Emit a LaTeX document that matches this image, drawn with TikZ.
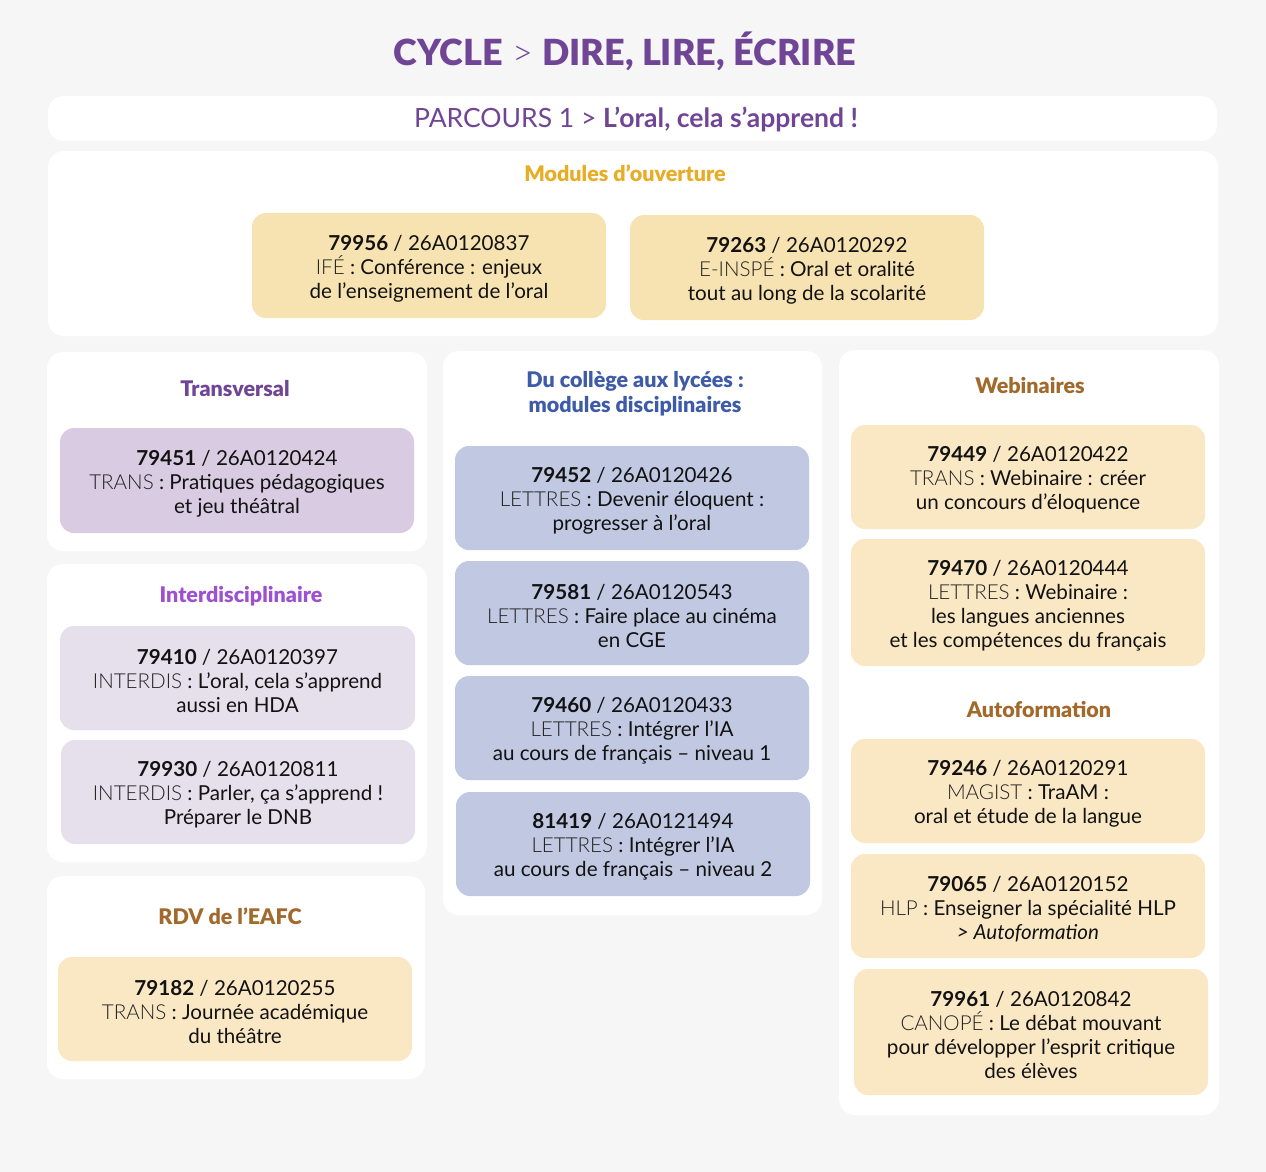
\documentclass[tikz,border=0pt]{standalone}
\usepackage{fontspec}
\setmainfont{Lato}
\newfontfamily\lightfont{Lato Light}
\newfontfamily\blackfont{Lato Black}
\definecolor{bgc}{HTML}{F6F6F6}
\definecolor{purp}{HTML}{704595}
\definecolor{ipurp}{HTML}{9D50CF}
\definecolor{gold}{HTML}{E9AC25}
\definecolor{blu}{HTML}{3E5BA8}
\definecolor{brn}{HTML}{A2692C}
\definecolor{ylw}{HTML}{F7E3B1}
\definecolor{cream}{HTML}{FAE8C5}
\definecolor{lav}{HTML}{D9CCE2}
\definecolor{lavl}{HTML}{E6E0EC}
\definecolor{blc}{HTML}{C1C8E2}
\definecolor{pregray}{HTML}{222222}
\definecolor{txt}{HTML}{121212}
\newcommand\pre[1]{{\lightfont\color{pregray}#1}}
\newcommand\card[7]{%
  \node[card,fill=#6,minimum width={(#4)-(#2)},minimum height={(#5)-(#3)}] (#1) at ({((#2)+(#4))/2},{((#3)+(#5))/2}) {\rule{0pt}{21pt}#7};}
\begin{document}
\begin{tikzpicture}[x=1pt,y=-1pt,
  panel/.style={fill=white,rounded corners=16pt},
  card/.style={rounded corners=14pt,align=center,inner sep=0pt,text=txt,font=\fontsize{20.6}{24}\selectfont},
  ptitle/.style={font=\blackfont\fontsize{21.5}{25}\selectfont,align=center,inner sep=0pt}]
\fill[bgc] (0,0) rectangle (1266,1172);
\useasboundingbox (0,0) rectangle (1266,1172);
% header
\node[text=purp,inner sep=0pt,font=\fontsize{36}{40}\selectfont] (title) at (625,51) {{\blackfont CYCLE} {\lightfont >} {\blackfont DIRE, LIRE, ÉCRIRE}};
\path[panel] (48,96) rectangle (1217,141);
\node[text=purp,inner sep=0pt,font=\fontsize{26.5}{30}\selectfont] (parcours) at (636,119) {PARCOURS 1 > \textbf{L’oral, cela s’apprend~!}};
% modules d'ouverture
\path[panel] (48,151) rectangle (1218,336);
\node[ptitle,text=gold] (tmod) at (625,173) {Modules d’ouverture};
\card{m1}{252}{213}{606}{318}{ylw}{\textbf{79956} / 26A0120837\\ \pre{IFÉ} : Conférence : enjeux\\ de l’enseignement de l’oral}
\card{m2}{630}{215}{984}{320}{ylw}{\textbf{79263} / 26A0120292\\ \pre{E-INSPÉ} : Oral et oralité\\ tout au long de la scolarité}
% left column
\path[panel] (47,352) rectangle (427,551);
\node[ptitle,text=purp] (ttrans) at (235,389) {Transversal};
\card{t1}{60}{428}{414}{533}{lav}{\textbf{79451} / 26A0120424\\ \pre{TRANS} : Pratiques pédagogiques\\ et jeu théâtral}
\path[panel] (47,564) rectangle (427,862);
\node[ptitle,text=ipurp] (tinter) at (241,596) {Interdisciplinaire};
\card{i1}{60}{626}{415}{730}{lavl}{\textbf{79410} / 26A0120397\\ \pre{INTERDIS} : L’oral, cela s’apprend\\ aussi en HDA}
\card{i2}{61}{740}{415}{844}{lavl}{\textbf{79930} / 26A0120811\\ \pre{INTERDIS} : Parler, ça s’apprend~!\\ Préparer le DNB}
\path[panel] (47,876) rectangle (425,1079);
\node[ptitle,text=brn] (trdv) at (230,916) {RDV de l’EAFC};
\card{r1}{58}{957}{412}{1061}{cream}{\textbf{79182} / 26A0120255\\ \pre{TRANS} : Journée académique\\ du théâtre}
% middle column
\path[panel] (443,351) rectangle (822,915);
\node[ptitle,text=blu] (tdisc) at (635,394) {Du collège aux lycées :\\ modules disciplinaires};
\card{d1}{455}{446}{809}{550}{blc}{\textbf{79452} / 26A0120426\\ \pre{LETTRES} : Devenir éloquent :\\ progresser à l’oral}
\card{d2}{455}{561}{809}{665}{blc}{\textbf{79581} / 26A0120543\\ \pre{LETTRES} : Faire place au cinéma\\ en CGE}
\card{d3}{455}{676}{809}{780}{blc}{\textbf{79460} / 26A0120433\\ \pre{LETTRES} : Intégrer l’IA\\ au cours de français – niveau 1}
\card{d4}{456}{792}{810}{896}{blc}{\textbf{81419} / 26A0121494\\ \pre{LETTRES} : Intégrer l’IA\\ au cours de français – niveau 2}
% right column
\path[panel] (839,350) rectangle (1219,1115);
\node[ptitle,text=brn] (tweb) at (1030,386) {Webinaires};
\card{w1}{851}{425}{1205}{529}{cream}{\textbf{79449} / 26A0120422\\ \pre{TRANS} : Webinaire : créer\\ un concours d’éloquence}
\card{w2}{851}{539}{1205}{666}{cream}{\textbf{79470} / 26A0120444\\ \pre{LETTRES} : Webinaire :\\ les langues anciennes\\ et les compétences du français}
\node[ptitle,text=brn] (tauto) at (1039,709) {Autoformation};
\card{a1}{851}{739}{1205}{843}{cream}{\textbf{79246} / 26A0120291\\ \pre{MAGIST} : TraAM :\\ oral et étude de la langue}
\card{a2}{851}{854}{1205}{958}{cream}{\textbf{79065} / 26A0120152\\ \pre{HLP} : Enseigner la spécialité HLP\\ \textit{> Autoformation}}
\card{a3}{854}{969}{1208}{1095}{cream}{\textbf{79961} / 26A0120842\\ \pre{CANOPÉ} : Le débat mouvant\\ pour développer l’esprit critique\\ des élèves}
\end{tikzpicture}
\end{document}
